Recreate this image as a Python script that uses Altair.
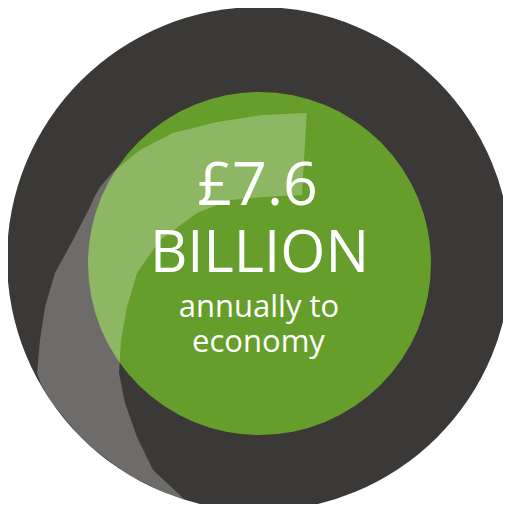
import altair as alt
import pandas as pd

# ---- picture values (pixel positions) ----
circle_names = ["outer", "inner"]
circle_cx = [259, 259.5]
circle_cy = [259, 263.5]
circle_r = [252, 171.5]
circle_colors = ["#3a3937", "#669e2c"]

# swoosh outline: for each y, left and right edge
swoosh_y = [113, 115, 122, 133, 150, 172, 187, 195, 197, 200, 207, 213, 233, 240,
            273, 307, 340, 373, 385, 403, 425, 437, 450, 470, 475, 490, 498, 500]
swoosh_xl = [306.7, 263, 217, 173, 140, 113, 100, 95.5, 94.5, 93, 90, 86.9, 76.6, 73,
             55, 45, 40, 37, 41.3, 52.2, 70.3, 80.6, 95, 121.2, 129.2, 158.3, 179, 185.5]
swoosh_xr = [306.7, 306.6, 306.2, 305.6, 304.6, 303.3, 302.5, 302, 263, 230, 212, 197, 170, 160,
             137, 127, 121, 119, 121.4, 125, 132.8, 137, 143.3, 153, 158.4, 174.4, 183, 185.5]

text_lines = ["£7.6", "BILLION", "annually to", "economy"]
text_x = [257.5, 259.5, 259, 258.5]
text_y = [205, 272, 317, 352]
text_size = [61, 58, 31, 31]

# ---- scales mapping picture pixels (plot area = page pixels 8..503 x 8..504) ----
xs = alt.Scale(domain=[8, 503], nice=False, zero=False)
ys = alt.Scale(domain=[504, 8], nice=False, zero=False)

# Vega circle symbol: radius = sqrt(size) / 2
circles = pd.DataFrame({
    "name": circle_names, "cx": circle_cx, "cy": circle_cy,
    "area": [(2 * r) ** 2 for r in circle_r], "color": circle_colors,
})

circ = alt.Chart(circles).mark_circle(opacity=1, strokeWidth=0).encode(
    x=alt.X("cx:Q", scale=xs, axis=None),
    y=alt.Y("cy:Q", scale=ys, axis=None),
    size=alt.Size("area:Q", scale=None, legend=None),
    color=alt.Color("color:N", scale=None, legend=None),
    order=alt.Order("area:Q", sort="descending"),
)

sw = pd.DataFrame({"y": swoosh_y, "xl": swoosh_xl, "xr": swoosh_xr})
swoosh = alt.Chart(sw).mark_area(orient="horizontal", color="white", opacity=0.26).encode(
    y=alt.Y("y:Q", scale=ys, axis=None),
    x=alt.X("xl:Q", scale=xs, axis=None),
    x2="xr:Q",
)

tx = pd.DataFrame({"t": text_lines, "x": text_x, "y": text_y, "s": text_size})
texts = alt.Chart(tx).mark_text(
    font="Open Sans", color="white", align="center", baseline="alphabetic"
).encode(
    x=alt.X("x:Q", scale=xs, axis=None),
    y=alt.Y("y:Q", scale=ys, axis=None),
    size=alt.Size("s:Q", scale=None, legend=None),
    text="t:N",
)

chart = alt.layer(circ, swoosh, texts).properties(
    width=495, height=496, padding=0, autosize="none", background="white"
).configure_view(stroke=None)

chart.save("out.html", embed_options={"renderer": "svg", "actions": False})
